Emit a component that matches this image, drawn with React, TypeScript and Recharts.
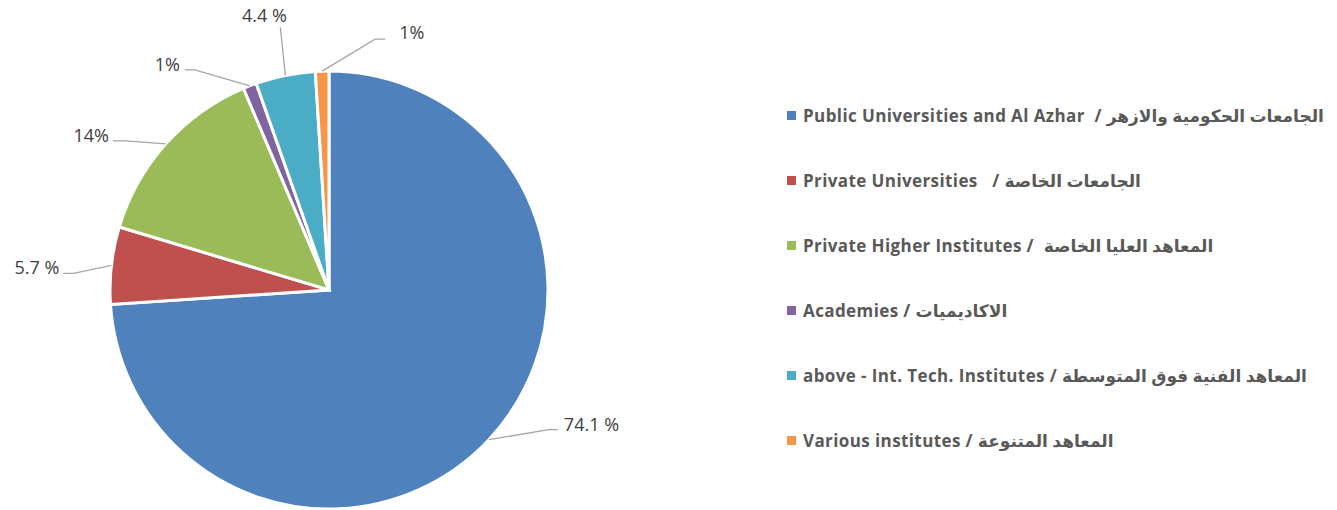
import React from 'react';
import { PieChart, Pie, Cell, Legend } from 'recharts';

const categories = [
  'Public Universities and Al Azhar  / الجامعات الحكومية والازهر',
  'Private Universities   / الجامعات الخاصة',
  'Private Higher Institutes /  المعاهد العليا الخاصة',
  'Academies / الاكاديميات',
  'above - Int. Tech. Institutes / المعاهد الفنية فوق المتوسطة',
  'Various institutes / المعاهد المتنوعة',
];
const shares = [74.1, 5.7, 14, 1, 4.4, 1];
const shareLabels = ['74.1 %', '5.7 %', '14%', '1%', '4.4 %', '1%'];

const COLORS = ['#4F81BD', '#C0504D', '#9BBB59', '#8064A2', '#4BACC6', '#F79646'];

// leader line: elbow offset from slice edge, horizontal tail, then text offset
const LEADERS = [
  { ex: 60, ey: -10, tail: 9, tx: 6, ty: -6, anchor: 'start' },
  { ex: -38, ey: 8, tail: -10, tx: -4, ty: -6, anchor: 'end' },
  { ex: -40, ey: -3, tail: -13, tx: -4, ty: -6, anchor: 'end' },
  { ex: -55, ey: -16, tail: -10, tx: -5, ty: -6, anchor: 'end' },
  { ex: -5, ey: -48, tail: 0, tx: -16, ty: -12, anchor: 'middle' },
  { ex: 53, ey: -32, tail: 10, tx: 14, ty: -7, anchor: 'start' },
];

const data = categories.map((name, i) => ({ name, value: shares[i] }));
const RAD = Math.PI / 180;

const renderLabel = (props: any) => {
  const { cx, cy, midAngle, outerRadius, index } = props;
  const sx = cx + outerRadius * Math.cos(-midAngle * RAD);
  const sy = cy + outerRadius * Math.sin(-midAngle * RAD);
  const l = LEADERS[index];
  const mx = sx + l.ex;
  const my = sy + l.ey;
  const ex = mx + l.tail;
  return (
    <g key={`lbl-${index}`}>
      <polyline
        points={`${sx},${sy} ${mx},${my} ${ex},${my}`}
        fill="none"
        stroke="#A6A6A6"
        strokeWidth={1.3}
      />
      <text
        x={ex + l.tx}
        y={my + l.ty}
        textAnchor={l.anchor}
        dominantBaseline="central"
        fill="#404040"
        fontSize={18}
        fontFamily="'Open Sans', 'DejaVu Sans', sans-serif"
      >
        {shareLabels[index]}
      </text>
    </g>
  );
};

const renderLegend = () => (
  <div style={{ fontFamily: "'Open Sans', 'DejaVu Sans', sans-serif" }}>
    {categories.map((c, i) => (
      <div
        key={c}
        style={{ display: 'flex', alignItems: 'center', height: 65, whiteSpace: 'pre', direction: 'ltr' }}
      >
        <span style={{ width: 9, height: 9, background: COLORS[i], marginRight: 7, flex: 'none' }} />
        <span style={{ fontSize: 17, fontWeight: 700, letterSpacing: 0.4, color: '#595959' }}>{c}</span>
      </div>
    ))}
  </div>
);

export default function App() {
  return (
    <div style={{ position: 'absolute', left: 0, top: 0, background: '#fff' }}>
      <PieChart width={1337} height={510} margin={{ top: 0, right: 0, bottom: 0, left: 0 }}>
        <Pie
          data={data}
          dataKey="value"
          nameKey="name"
          cx={329}
          cy={290}
          outerRadius={219}
          startAngle={90}
          endAngle={-270}
          stroke="#fff"
          strokeWidth={3}
          label={renderLabel}
          labelLine={false}
          isAnimationActive={false}
        >
          {data.map((entry, index) => (
            <Cell key={`cell-${index}`} fill={COLORS[index]} />
          ))}
        </Pie>
        <Legend
          content={renderLegend}
          wrapperStyle={{ position: 'absolute', left: 787, top: 83, width: 550 }}
        />
      </PieChart>
    </div>
  );
}
